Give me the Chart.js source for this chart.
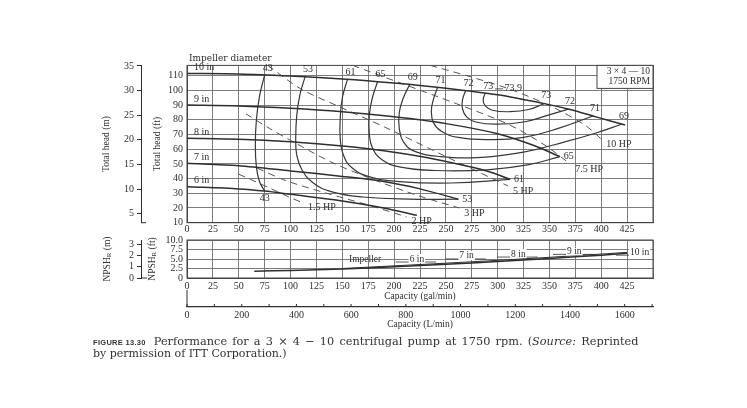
<!DOCTYPE html>
<html>
<head>
<meta charset="utf-8">
<script src="https://cdn.jsdelivr.net/npm/chart.js@4.4.1/dist/chart.umd.min.js"></script>
<style>
  body { margin: 0; background: #fff; }
  #wrap { position: relative; width: 747px; height: 408px; overflow: hidden; background: #fff; }
  canvas { position: absolute; left: 0; }
  #head { top: 0; }
  #npsh { top: 230px; }
  .cap { position: absolute; left: 93px; font-family: "DejaVu Serif", serif; font-size: 11.3px; color: #333; white-space: nowrap; }
  .fig { font-family: "Liberation Sans", sans-serif; font-weight: bold; font-size: 7.5px; margin-right: 8px; letter-spacing: 0.3px; word-spacing: 0; }
</style>
</head>
<body>
<div id="wrap">
  <canvas id="head" width="747" height="236"></canvas>
  <canvas id="npsh" width="747" height="105"></canvas>
  <div class="cap" style="top:335px; word-spacing:1.6px"><span class="fig">FIGURE 13.30</span>Performance for a 3 &times; 4 &minus; 10 centrifugal pump at 1750 rpm. (<i>Source:</i> Reprinted</div>
  <div class="cap" style="top:347px; font-size:11px">by permission of ITT Corporation.)</div>
</div>
<script>
// ---- axis ticks ----
var gpmTicks = [0, 25, 50, 75, 100, 125, 150, 175, 200, 225, 250, 275, 300, 325, 350, 375, 400, 425, 450];
var headFtTicks = [10, 20, 30, 40, 50, 60, 70, 80, 90, 100, 110];
var headMTicks = [5, 10, 15, 20, 25, 30, 35];
var npshFtTicks = [0, 2.5, 5, 7.5, 10];
var npshMTicks = [0, 1, 2, 3];
var lpmTicks = [0, 200, 400, 600, 800, 1000, 1200, 1400, 1600];
var lpmMinor = [100, 300, 500, 700, 900, 1100, 1300, 1500, 1700];

// ---- head curves (gal/min, ft) ----
var impellers = ['10 in', '9 in', '8 in', '7 in', '6 in'];
var head10 = [[0,111.5],[50,111.2],[100,109.8],[150,107.8],[200,105],[250,101.5],[300,97],[345,91],[370,87],[395,82],[423,76.5]];
var head9 = [[0,90],[50,89.4],[100,87.8],[150,85.4],[200,82],[250,77.4],[300,70.5],[335,62.5],[360,55]];
var head8 = [[0,67.5],[50,66.8],[100,65],[150,62.2],[190,59],[230,54.5],[270,48.5],[295,44],[312,39.5]];
var head7 = [[0,50.4],[50,48.8],[100,45.2],[150,41.5],[190,38],[225,33],[262,26]];
var head6 = [[0,34.5],[50,33],[75,31.5],[100,29.3],[150,24.8],[190,20],[222,15]];

// ---- efficiency contours (%) ----
var effValues = ['43', '53', '61', '65', '69', '71', '72', '73'];
var effEnd = ['below', 'right', 'right', 'right', 'above', 'above', 'above', 'above'];
var eff43 = [[75,110.5],[70,96],[67,80],[66,63],[67,48],[70,38],[75,31.5]];
var eff53 = [[114,109.2],[109,97],[106,83],[105,68],[106,56],[111,46],[122,37],[140,31],[170,27.5],[215,26],[262,26]];
var eff61 = [[155,107.5],[150,95],[148,81],[148,67],[151,56],[159,47.5],[175,41.5],[205,38],[255,37],[312,39.5]];
var eff65 = [[184,105.9],[179,95],[176,83],[176,71],[179,61],[188,53],[205,48],[240,45.5],[290,46],[330,49.5],[360,55]];
var eff69 = [[215,104],[209,95],[205,85],[205,74],[209,65],[220,58.5],[245,55],[285,54.5],[325,58],[365,65],[395,71],[420,77.1]];
var eff71 = [[242,102.1],[238,94],[236,86],[238,78],[246,72],[262,68],[290,66.5],[325,68],[360,74.5],[392,82.6]];
var eff72 = [[269,99.8],[266,93.5],[266,87.5],[270,82],[279,78.5],[298,77],[325,78.5],[348,83],[368,87.3]];
var eff73 = [[288,98.1],[286,93.5],[288,89.5],[295,86.5],[312,85.5],[330,87],[345,91]];
var bepText = '73.9';
var bepPoint = [313, 96.6];

// ---- brake horsepower lines ----
var hpNames = ['1.5 HP', '2 HP', '3 HP', '5 HP', '7.5 HP', '10 HP'];
var hp15 = [[50,43],[80,33.5],[100,27],[112,23.5]];
var hp2 = [[68,47],[96,38.5],[135,30],[175,22],[212,14]];
var hp3 = [[57,84],[80,74],[100,66],[140,51],[185,38],[225,28],[263,20]];
var hp5 = [[78,117],[110,101],[150,88],[191,75],[250,55],[310,35]];
var hp75 = [[160,117],[210,104],[260,91],[310,77],[345,63],[370,50]];
var hp10 = [[235,117],[275,109],[315,100],[355,88],[385,76],[400,67]];

// ---- NPSH required (ft) ----
var npshLow = [[65,1.8],[100,2.0],[150,2.4],[200,2.95],[250,3.6],[300,4.35],[350,5.15],[400,6.0],[425,6.5]];
var npshHigh = [[150,2.5],[200,3.2],[250,3.9],[300,4.65],[350,5.45],[400,6.3],[425,6.75]];
var npshLabelText = ['Impeller', '6 in', '7 in', '8 in', '9 in', '10 in'];
var npshLabelQ = [172, 222, 270, 320, 374, 437];
var npshLabelV = [5.0, 5.0, 5.8, 6.3, 7.0, 6.8];

var headCurves = [head10, head9, head8, head7, head6];
var effCurves = [eff43, eff53, eff61, eff65, eff69, eff71, eff72, eff73];
var hpCurves = [hp15, hp2, hp3, hp5, hp75, hp10];

var ink = '#2f2f2f';
var gridInk = '#6e6e6e';
var serif = '"Liberation Serif", "DejaVu Serif", serif';

function xy(points) {
  return points.map(function(p) { return {x: p[0], y: p[1]}; });
}
function fixTicks(values) {
  return function(scale) {
    scale.ticks = values.map(function(v) { return {value: v}; });
  };
}

var frame = {
  id: 'frame',
  beforeDatasetsDraw: function(chart) {
    var a = chart.chartArea, ctx = chart.ctx;
    ctx.save();
    ctx.strokeStyle = '#444';
    ctx.lineWidth = 1;
    ctx.strokeRect(a.left, a.top, a.right - a.left, a.bottom - a.top);
    ctx.restore();
  }
};

function label(ctx, text, x, y, align, base) {
  ctx.textAlign = align;
  ctx.textBaseline = base;
  ctx.fillText(text, x, y);
}

var headNotes = {
  id: 'headNotes',
  afterDatasetsDraw: function(chart) {
    var ctx = chart.ctx, a = chart.chartArea, sx = chart.scales.x, sy = chart.scales.y;
    function P(p) { return {x: sx.getPixelForValue(p[0]), y: sy.getPixelForValue(p[1])}; }
    ctx.save();
    ctx.fillStyle = ink;
    ctx.font = '10px ' + serif;

    headCurves.forEach(function(pts, i) {
      var p = P(pts[0]);
      label(ctx, impellers[i], p.x + 7, p.y - 1, 'left', 'bottom');
    });

    effCurves.forEach(function(pts, i) {
      var t = P(pts[0]);
      label(ctx, effValues[i], t.x + 3, t.y - 2, 'center', 'bottom');
      var e = P(pts[pts.length - 1]);
      if (effEnd[i] === 'below') label(ctx, effValues[i], e.x, e.y + 2, 'center', 'top');
      else if (effEnd[i] === 'right') label(ctx, effValues[i], e.x + 4, e.y, 'left', 'middle');
      else label(ctx, effValues[i], e.x + 2, e.y - 3, 'center', 'bottom');
    });

    var b = P(bepPoint);
    label(ctx, bepText, b.x + 2, b.y - 2, 'center', 'bottom');
    ctx.strokeStyle = ink;
    ctx.lineWidth = 0.8;
    ctx.beginPath();
    ctx.moveTo(b.x - 16, b.y - 6.5);
    ctx.lineTo(b.x - 8, b.y - 6.5);
    ctx.stroke();

    hpCurves.forEach(function(pts, i) {
      var e = P(pts[pts.length - 1]);
      label(ctx, hpNames[i], e.x + 5, e.y + 5, 'left', 'middle');
    });

    ctx.font = '9px "DejaVu Serif", serif';
    label(ctx, 'Impeller diameter', a.left + 2, a.top - 2, 'left', 'bottom');

    // model box, top right
    var bw = 56, bh = 23;
    ctx.fillStyle = '#fff';
    ctx.fillRect(a.right - bw, a.top, bw, bh);
    ctx.strokeStyle = '#444';
    ctx.lineWidth = 1;
    ctx.strokeRect(a.right - bw, a.top, bw, bh);
    ctx.fillStyle = ink;
    ctx.font = '9.5px ' + serif;
    label(ctx, '3 \u00d7 4 \u2014 10', a.right - 3, a.top + 6, 'right', 'middle');
    label(ctx, '1750 RPM', a.right - 3, a.top + 16.5, 'right', 'middle');

    // foot of the metre axis
    var m = chart.scales.m;
    ctx.strokeStyle = ink;
    ctx.beginPath();
    ctx.moveTo(m.right, a.bottom);
    ctx.lineTo(m.right + 5, a.bottom);
    ctx.stroke();
    ctx.restore();
  }
};

function rotatedNpshTitle(ctx, unit, x, y) {
  ctx.save();
  ctx.translate(x, y);
  ctx.rotate(-Math.PI / 2);
  var big = '9.5px ' + serif, small = '7px ' + serif;
  ctx.font = big;
  var w1 = ctx.measureText('NPSH').width;
  var w3 = ctx.measureText(' (' + unit + ')').width;
  ctx.font = small;
  var w2 = ctx.measureText('R').width;
  var x0 = -(w1 + w2 + w3) / 2;
  ctx.textAlign = 'left';
  ctx.textBaseline = 'middle';
  ctx.font = big;
  ctx.fillText('NPSH', x0, 0);
  ctx.font = small;
  ctx.fillText('R', x0 + w1, 2.5);
  ctx.font = big;
  ctx.fillText(' (' + unit + ')', x0 + w1 + w2, 0);
  ctx.restore();
}

var npshNotes = {
  id: 'npshNotes',
  afterDraw: function(chart) {
    var ctx = chart.ctx, a = chart.chartArea, sx = chart.scales.x, sy = chart.scales.y;
    var l = chart.scales.lpm, m = chart.scales.m;
    ctx.save();
    ctx.fillStyle = ink;
    ctx.strokeStyle = ink;
    ctx.lineWidth = 0.8;
    ctx.font = '9.5px ' + serif;
    npshLabelText.forEach(function(t, i) {
      var x = sx.getPixelForValue(npshLabelQ[i]);
      var y = sy.getPixelForValue(npshLabelV[i]);
      var w = ctx.measureText(t).width;
      if (i > 0) {
        ctx.beginPath();
        ctx.moveTo(x - w / 2 - 14, y + 3);
        ctx.lineTo(x + w / 2 + (i === npshLabelText.length - 1 ? 0 : 12), y + 3);
        ctx.stroke();
        ctx.fillStyle = '#fff';
        ctx.fillRect(x - w / 2 - 1, y - 5, w + 2, 9);
        ctx.fillStyle = ink;
      }
      label(ctx, t, x, y, 'center', 'middle');
    });

    // L/min axis: bracket at the left and small ticks
    ctx.lineWidth = 1;
    ctx.beginPath();
    ctx.moveTo(l.left, l.top);
    ctx.lineTo(l.left, l.top - 17);
    lpmMinor.concat(lpmTicks).forEach(function(v) {
      var x = l.getPixelForValue(v);
      ctx.moveTo(x, l.top);
      ctx.lineTo(x, l.top - 3);
    });
    // foot of the metre axis
    ctx.moveTo(m.right, a.bottom);
    ctx.lineTo(m.right + 6, a.bottom);
    ctx.stroke();

    rotatedNpshTitle(ctx, 'm', 107, (a.top + a.bottom) / 2);
    rotatedNpshTitle(ctx, 'ft', 152, (a.top + a.bottom) / 2);
    ctx.restore();
  }
};

var tickFont = {family: serif, size: 10};
var titleFont = {family: serif, size: 9.5};

// ---------- head chart ----------
var headSets = [];
headCurves.forEach(function(c) {
  headSets.push({data: xy(c), showLine: true, pointRadius: 0, borderColor: ink, borderWidth: 1.5, tension: 0.3});
});
effCurves.forEach(function(c) {
  headSets.push({data: xy(c), showLine: true, pointRadius: 0, borderColor: '#383838', borderWidth: 1.2, tension: 0.45});
});
hpCurves.forEach(function(c) {
  headSets.push({data: xy(c), showLine: true, pointRadius: 0, borderColor: '#555', borderWidth: 1, borderDash: [7, 5], tension: 0.3});
});

new Chart(document.getElementById('head'), {
  type: 'scatter',
  data: {datasets: headSets},
  options: {
    responsive: false,
    animation: false,
    layout: {padding: {left: 95, right: 94, top: 65.4, bottom: 0}},
    plugins: {legend: {display: false}, tooltip: {enabled: false}},
    scales: {
      x: {
        type: 'linear', min: 0, max: 450,
        afterBuildTicks: fixTicks(gpmTicks),
        afterFit: function(s) { s.height = 13.3; },
        grid: {color: gridInk, lineWidth: 0.9, drawTicks: false},
        border: {color: '#444'},
        ticks: {padding: 1, color: ink, font: tickFont, maxRotation: 0, autoSkip: false,
          callback: function(v) { return v <= 425 ? String(v) : ''; }}
      },
      y: {
        type: 'linear', position: 'left', weight: 0, min: 10, max: 117,
        afterBuildTicks: fixTicks(headFtTicks),
        afterFit: function(s) { s.width = 46; },
        grid: {color: gridInk, lineWidth: 0.9, drawTicks: false},
        border: {color: '#444'},
        ticks: {padding: 4, color: ink, font: tickFont, autoSkip: false},
        title: {display: true, text: 'Total head (ft)', color: ink, font: titleFont, padding: {top: 11, bottom: 0}}
      },
      m: {
        type: 'linear', position: 'left', weight: 1, min: 3.2, max: 35.1,
        afterBuildTicks: fixTicks(headMTicks),
        afterFit: function(s) { s.width = 46; },
        grid: {drawOnChartArea: false, color: ink, tickLength: 4},
        border: {color: ink},
        ticks: {padding: 3, color: ink, font: tickFont, autoSkip: false},
        title: {display: true, text: 'Total head (m)', color: ink, font: titleFont, padding: {top: 6, bottom: 0}}
      }
    }
  },
  plugins: [frame, headNotes]
});

// ---------- NPSH chart ----------
new Chart(document.getElementById('npsh'), {
  type: 'scatter',
  data: {datasets: [
    {data: xy(npshLow), showLine: true, pointRadius: 0, borderColor: ink, borderWidth: 1.5, tension: 0.3},
    {data: xy(npshHigh), showLine: true, pointRadius: 0, borderColor: ink, borderWidth: 1, tension: 0.3}
  ]},
  options: {
    responsive: false,
    animation: false,
    layout: {padding: {left: 95, right: 94, top: 6.5, bottom: 3}},
    plugins: {legend: {display: false}, tooltip: {enabled: false}},
    scales: {
      x: {
        type: 'linear', position: 'bottom', weight: 0, min: 0, max: 450,
        afterBuildTicks: fixTicks(gpmTicks),
        afterFit: function(s) { s.height = 29; },
        grid: {color: gridInk, lineWidth: 0.9, drawTicks: false},
        border: {color: '#444'},
        ticks: {padding: 2, color: ink, font: tickFont, maxRotation: 0, autoSkip: false,
          callback: function(v) { return v <= 425 ? String(v) : ''; }},
        title: {display: true, text: 'Capacity (gal/min)', color: ink, font: titleFont, padding: {top: 0, bottom: 4.6}}
      },
      lpm: {
        type: 'linear', position: 'bottom', weight: 1, min: 0, max: 450 * 3.7854,
        afterBuildTicks: fixTicks(lpmTicks),
        afterFit: function(s) { s.height = 25; },
        grid: {drawOnChartArea: false, drawTicks: false},
        border: {color: ink, width: 1.2},
        ticks: {padding: 2, color: ink, font: tickFont, maxRotation: 0, autoSkip: false,
          callback: function(v) { return String(v); }},
        title: {display: true, text: 'Capacity (L/min)', color: ink, font: titleFont, padding: {top: 0, bottom: 1.6}}
      },
      y: {
        type: 'linear', position: 'left', weight: 0, min: 0, max: 10,
        afterBuildTicks: fixTicks(npshFtTicks),
        afterFit: function(s) { s.width = 46; },
        grid: {color: gridInk, lineWidth: 0.9, drawTicks: false},
        border: {color: '#444'},
        ticks: {padding: 4, color: ink, font: tickFont, autoSkip: false,
          callback: function(v) { return v === 0 ? '0' : v.toFixed(1); }}
      },
      m: {
        type: 'linear', position: 'left', weight: 1, min: 0, max: 3.4,
        afterBuildTicks: fixTicks(npshMTicks),
        afterFit: function(s) { s.width = 46; },
        grid: {drawOnChartArea: false, color: ink, tickLength: 4},
        border: {color: ink},
        ticks: {padding: 3, color: ink, font: tickFont, autoSkip: false}
      }
    }
  },
  plugins: [frame, npshNotes]
});
</script>
</body>
</html>
